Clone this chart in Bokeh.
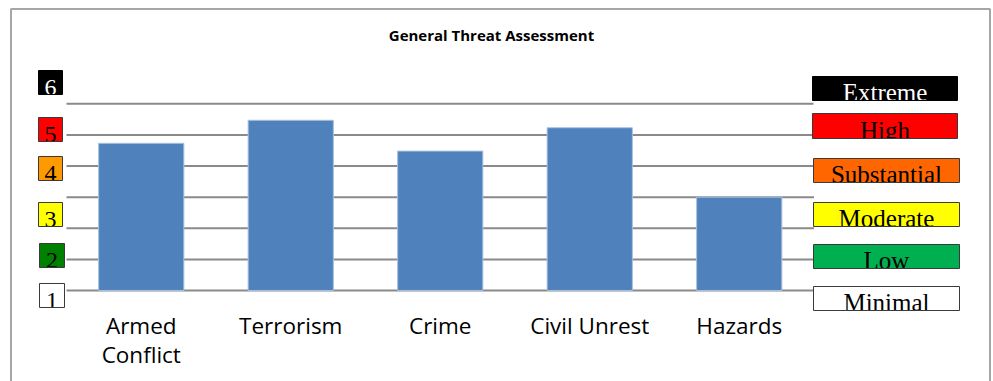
from bokeh.plotting import figure
from bokeh.models import Range1d, Label, BoxAnnotation
from bokeh.core.properties import value
from bokeh.embed import file_html
from bokeh.resources import INLINE

# ---- data ----
categories = ["Armed Conflict", "Terrorism", "Crime", "Civil Unrest", "Hazards"]
category_labels = ["Armed\nConflict", "Terrorism", "Crime", "Civil Unrest", "Hazards"]
threat_levels = [4.73, 5.47, 4.48, 5.23, 3.0]
y_ticks = [0, 1, 2, 3, 4, 5, 6]
level_numbers = ["6", "5", "4", "3", "2", "1"]
level_names = ["Extreme", "High", "Substantial", "Moderate", "Low", "Minimal"]
title_text = "General Threat Assessment"

# ---- styles / layout ----
num_colors = ["#000000", "#FF0000", "#FF9900", "#FFFF00", "#008000", "#FFFFFF"]
num_text_colors = ["#FFFFFF", "#000000", "#000000", "#000000", "#000000", "#000000"]
name_colors = ["#000000", "#FF0000", "#FF6600", "#FFFF00", "#00B050", "#FFFFFF"]
name_text_colors = ["#FFFFFF", "#000000", "#000000", "#000000", "#000000", "#000000"]
# pixel boxes (left, right, top, bottom)
num_boxes = [(38, 62, 70, 94), (38, 62, 117, 141), (38, 62, 156, 180),
             (38, 62, 202, 226), (39, 64, 243, 267), (39, 64, 283, 307)]
name_boxes = [(812, 957, 76, 100), (812, 957, 113, 138), (813, 959, 158, 182),
              (813, 959, 202, 226), (813, 959, 244, 268), (813, 959, 286, 310)]

W, H = 993, 381
X0, Y0 = 66.0, 290.0          # pixel position of the plot origin
UX = (813.5 - 66.0) / len(categories)   # pixels per category
UY = (290.0 - 103.3) / 6.0              # pixels per level
SHIFT = 0.36                  # rendered baseline sits this many em below anchor


def ux(px):
    return (px - X0) / UX


def uy(py):
    return (Y0 - py) / UY


def base(py, size):
    return uy(py - SHIFT * size)


p = figure(width=W, height=H,
           x_range=Range1d(ux(0), ux(W)), y_range=Range1d(uy(H), uy(0)),
           output_backend="svg", toolbar_location=None,
           x_axis_location=None, y_axis_location=None,
           min_border=0, min_border_left=0, min_border_right=0,
           min_border_top=0, min_border_bottom=0,
           outline_line_color=None,
           background_fill_color="white", border_fill_color="white")
p.xgrid.visible = False
p.ygrid.visible = False

n = len(categories)
centers = [i + 0.5 for i in range(n)]

# horizontal gridlines across the plot area
p.segment(x0=[0] * len(y_ticks), x1=[n] * len(y_ticks), y0=y_ticks, y1=y_ticks,
          line_color="#8A8A8A", line_width=2)

p.vbar(x=centers, top=threat_levels, bottom=0, width=0.57,
       fill_color="#4F81BD", line_color="#A8C0DE", line_width=1)

# category labels (one text item per line)
CAT_SIZE = 22.5
lx, ly, lt = [], [], []
for c, lab in zip(centers, category_labels):
    for k, line in enumerate(lab.split("\n")):
        lx.append(c)
        ly.append(base(332.7 + 29 * k, CAT_SIZE))
        lt.append(line)
p.text(x=lx, y=ly, text=lt, text_align="center", text_baseline="alphabetic",
       text_font=value("Open Sans"), text_font_size=f"{CAT_SIZE}px", text_color="#000000")

# outer frame
p.add_layout(BoxAnnotation(left=ux(10.5), right=ux(989.5), top=uy(8.5), bottom=uy(420),
                           fill_alpha=0, line_color="#A6A6A6", line_alpha=1, line_width=2))

# title
TITLE_SIZE = 15
p.add_layout(Label(x=ux(491), y=base(39.5, TITLE_SIZE), text=title_text, text_align="center",
                   text_baseline="alphabetic", text_font="Open Sans",
                   text_font_style="bold", text_font_size=f"{TITLE_SIZE}px",
                   text_color="#000000"))


def level_box(box, fill, text, tcolor, size, border, drop):
    l, r, t, b = box
    p.add_layout(BoxAnnotation(left=ux(l), right=ux(r), top=uy(t), bottom=uy(b),
                               fill_color=fill, fill_alpha=1, line_alpha=0))
    p.add_layout(Label(x=ux((l + r) / 2), y=base(b + drop, size), text=text,
                       text_align="center", text_baseline="alphabetic",
                       text_font="Liberation Serif", text_font_size=f"{size}px",
                       text_color=tcolor))
    p.add_layout(BoxAnnotation(left=ux(l + 1), right=ux(r + 1), top=uy(b), bottom=uy(b + 9),
                               fill_color="white", fill_alpha=1, line_alpha=0))
    p.add_layout(BoxAnnotation(left=ux(l), right=ux(r), top=uy(t), bottom=uy(b),
                               fill_alpha=0, line_color=border, line_alpha=1, line_width=1))


for i in range(6):
    level_box(num_boxes[i], num_colors[i], level_numbers[i], num_text_colors[i], 24,
              num_colors[0] if i == 0 else "#3A3A3A", 1.5)
    level_box(name_boxes[i], name_colors[i], level_names[i], name_text_colors[i], 25,
              name_colors[0] if i == 0 else "#3A3A3A", 1.0)

open("out.html", "w").write(file_html(p, INLINE))
